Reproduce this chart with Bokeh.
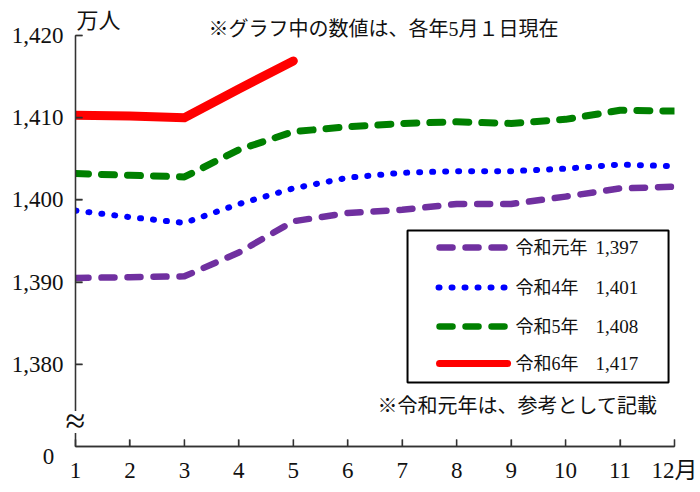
from bokeh.plotting import figure
from bokeh.models import Range1d, FixedTicker, NumeralTickFormatter
from bokeh.core.properties import value
from bokeh.embed import file_html
from bokeh.resources import INLINE

# ---- data ----
months = [1, 2, 3, 4, 5, 6, 7, 8, 9, 10, 11, 12]
reiwa1 = [1390.5, 1390.6, 1390.7, 1393.6, 1397.4, 1398.4, 1398.8, 1399.5, 1399.5, 1400.4, 1401.4, 1401.6]
reiwa4 = [1398.7, 1397.9, 1397.2, 1399.5, 1401.4, 1402.7, 1403.3, 1403.5, 1403.5, 1403.8, 1404.3, 1404.1]
reiwa5 = [1403.2, 1403.0, 1402.8, 1406.1, 1408.3, 1408.9, 1409.3, 1409.5, 1409.3, 1409.8, 1410.9, 1410.8]
reiwa6 = [1410.3, 1410.2, 1410.0, 1413.5, 1416.9]
series_names = ["令和元年", "令和4年", "令和5年", "令和6年"]
may_labels = ["1,397", "1,401", "1,408", "1,417"]
y_ticks = [1380, 1390, 1400, 1410, 1420]
y_min = 1370

FONT = "Liberation Serif, Noto Sans CJK JP"
TXT = "#111111"
AXC = "#333333"

p = figure(width=700, height=492, output_backend="svg", toolbar_location=None,
           x_range=Range1d(months[0], months[-1]), y_range=Range1d(y_min, y_ticks[-1]),
           min_border_left=75, min_border_right=26, min_border_top=35, min_border_bottom=46)
p.xgrid.visible = False
p.ygrid.visible = False
p.outline_line_color = None
p.background_fill_color = "white"
p.border_fill_color = "white"

for ax in (p.xaxis[0], p.yaxis[0]):
    ax.axis_line_color = AXC
    ax.axis_line_width = 1.3
    ax.major_tick_line_color = AXC
    ax.major_tick_line_width = 1.3
    ax.major_tick_out = 0
    ax.minor_tick_line_color = None
    ax.major_label_text_font = FONT
    ax.major_label_text_font_size = "23px"
    ax.major_label_text_color = TXT

p.xaxis.ticker = FixedTicker(ticks=months)
p.xaxis.major_label_overrides = {12: "12月"}
p.xaxis.major_tick_in = 7
p.xaxis.major_label_standoff = 11
p.yaxis.ticker = FixedTicker(ticks=y_ticks)
p.yaxis.formatter = NumeralTickFormatter(format="0,0")
p.yaxis.major_tick_in = 7
p.yaxis.major_label_standoff = 12

# pixel helpers (reference image coords -> data coords), for annotation placement only
def px_x(px):
    return 1 + (px - 75) / 54.45

def px_y(py):
    return 1370 + (446 - py) / 8.22

# axis lines and inward ticks drawn at overlay level so the frame clip cannot hide them
p.segment(x0=[months[0]], y0=[y_min], x1=[months[0]], y1=[y_ticks[-1]], line_color=AXC, line_width=1.3, level="overlay")
p.segment(x0=[months[0]], y0=[y_min], x1=[months[-1]], y1=[y_min], line_color=AXC, line_width=1.3, level="overlay")
p.segment(x0=months, y0=[y_min] * len(months), x1=months, y1=[y_min + 7 / 8.22] * len(months),
          line_color=AXC, line_width=1.3, level="overlay")
p.segment(x0=[months[0]] * len(y_ticks), y0=y_ticks, x1=[months[0] + 7 / 54.45] * len(y_ticks), y1=y_ticks,
          line_color=AXC, line_width=1.3, level="overlay")

# ---- series ----
p.line(months, reiwa1, line_color="#7030A0", line_width=6.5, line_dash="13 13", line_cap="round", line_join="round")
p.line(months, reiwa4, line_color="#0000FF", line_width=6, line_dash="1 12", line_cap="round", line_join="round")
p.line(months, reiwa5, line_color="#008000", line_width=7, line_dash="13 13", line_cap="round", line_join="round")
p.line(months[:len(reiwa6)], reiwa6, line_color="#FF0000", line_width=9, line_cap="round", line_join="round")

# ---- legend (manual box) ----
p.quad(left=[px_x(407)], right=[px_x(668)], top=[px_y(230)], bottom=[px_y(382)],
       fill_color="white", line_color="black", line_width=2)
rows = [247, 287, 326, 363]
styles = [
    dict(line_color="#7030A0", line_width=6.5, line_dash="13 13", x0=439, x1=505),
    dict(line_color="#0000FF", line_width=6, line_dash="1 12", x0=438, x1=506),
    dict(line_color="#008000", line_width=6.5, line_dash="13 13", x0=439, x1=505),
    dict(line_color="#FF0000", line_width=7, line_dash="solid", x0=439, x1=507),
]
for ry, st, nm, ml in zip(rows, styles, series_names, may_labels):
    p.line([px_x(st["x0"]), px_x(st["x1"])], [px_y(ry), px_y(ry)], line_color=st["line_color"],
           line_width=st["line_width"], line_dash=st["line_dash"], line_cap="round")
    p.text(x=[px_x(515)], y=[px_y(ry)], text=[nm], text_font=value(FONT), text_font_size="18px",
           text_baseline="middle", text_align="left", text_color=TXT)
    p.text(x=[px_x(595)], y=[px_y(ry)], text=[ml], text_font=value(FONT), text_font_size="19px",
           text_baseline="middle", text_align="left", text_color=TXT)

# ---- free texts (overlay level so that they are not clipped to the frame) ----
def txt(px, py, t, size, align="left"):
    p.text(x=[px_x(px)], y=[px_y(py)], text=[t], text_font=value(FONT), text_font_size=size,
           text_baseline="middle", text_align=align, text_color=TXT, level="overlay")

txt(76, 20, "万人", "22px")
txt(208, 28, "※グラフ中の数値は、各年5月１日現在", "20px")
txt(377, 405, "※令和元年は、参考として記載", "20px")
txt(48, 456, "0", "23px", "center")
# axis break: white gap in the y axis with the ≈ mark
p.rect(x=[months[0]], y=[px_y(421.5)], width=14, height=22, width_units="screen", height_units="screen",
       fill_color="white", line_color=None, level="overlay")
txt(75, 420, "≈", "36px", "center")

open("out.html", "w").write(file_html(p, INLINE))
